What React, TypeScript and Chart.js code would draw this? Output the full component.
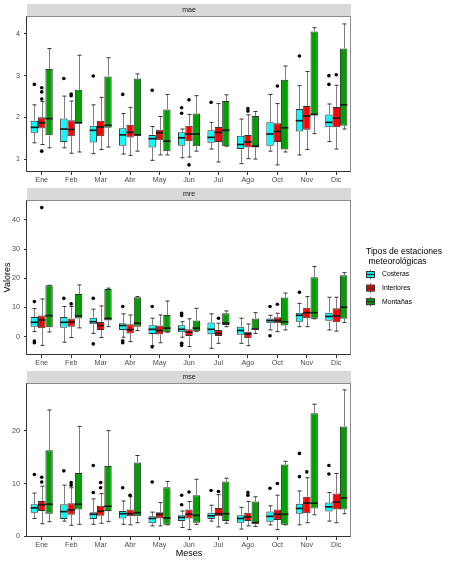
import React, { useEffect, useRef } from "react";
import { Chart, registerables } from "chart.js";

Chart.register(...registerables);

// ---------- data ----------
const months = ["Ene", "Feb", "Mar", "Abr", "May", "Jun", "Jul", "Ago", "Oct", "Nov", "Dic"];
const seriesNames = ["Costeras", "Interiores", "Montañas"];
const seriesColors = ["#00FFFF", "#FF0000", "#00A000"];
const legendTitle = ["Tipos de estaciones", " meteorológicas"];
const yAxisTitle = "Valores";
const xAxisTitle = "Meses";

// each entry: [min, q1, median, q3, max]
const maeCosteras = [
  [1.39, 1.63, 1.76, 1.92, 2.3], [1.27, 1.41, 1.72, 1.97, 2.51], [1.13, 1.4, 1.69, 1.8, 2.3],
  [1.12, 1.32, 1.58, 1.74, 2.09], [0.97, 1.28, 1.49, 1.58, 1.78], [1.03, 1.32, 1.51, 1.64, 1.72],
  [1.24, 1.39, 1.52, 1.69, 1.88], [0.89, 1.24, 1.35, 1.56, 1.96], [1.19, 1.32, 1.6, 1.88, 2.55],
  [1.1, 1.66, 1.92, 2.2, 2.76], [1.42, 1.76, 1.88, 2.07, 2.32],
];
const maeInteriores = [
  [1.35, 1.73, 1.87, 2.0, 2.38], [1.14, 1.55, 1.71, 1.93, 2.39], [1.23, 1.55, 1.77, 1.92, 2.48],
  [1.09, 1.52, 1.64, 1.82, 2.24], [1.1, 1.45, 1.63, 1.7, 2.02], [1.05, 1.43, 1.6, 1.8, 2.07],
  [0.93, 1.41, 1.64, 1.77, 2.33], [1.01, 1.28, 1.41, 1.58, 2.06], [0.86, 1.41, 1.66, 1.86, 2.33],
  [1.23, 1.7, 2.03, 2.27, 3.1], [1.24, 1.76, 1.98, 2.25, 2.77],
];
const maeMontanas = [
  [1.27, 1.57, 1.97, 3.16, 3.65], [1.17, 1.85, 1.87, 2.66, 3.49], [1.29, 1.75, 1.81, 2.98, 3.43],
  [1.19, 1.56, 1.58, 2.93, 3.04], [1.1, 1.19, 1.43, 2.19, 2.55], [1.19, 1.31, 1.6, 2.09, 2.52],
  [1.31, 1.31, 1.69, 2.39, 2.54], [1.0, 1.28, 1.31, 2.03, 2.14], [1.17, 1.23, 1.75, 2.9, 3.23],
  [1.61, 2.05, 2.07, 4.06, 4.15], [1.72, 1.8, 2.3, 3.65, 4.24],
];
const maeOutCosteras = [[2.79], [2.93], [2.99], [2.55], [2.65], [2.23, 2.1], [2.36], [], [], [3.47], [3.0, 2.79]];
const maeOutInteriores = [[2.71, 2.61, 2.44, 1.19], [2.56, 2.52], [], [], [], [2.42, 0.86], [], [2.21, 2.15], [2.75], [], [3.02]];
const maeOutMontanas = [[], [], [], [], [], [], [], [], [], [], []];

const mreCosteras = [
  [1.7, 3.4, 4.9, 6.7, 9.6], [-1.9, 3.0, 4.9, 6.7, 10.3], [1.1, 4.2, 5.1, 6.5, 9.4],
  [-0.2, 2.3, 3.8, 4.6, 7.8], [-3.2, 0.9, 2.5, 3.9, 6.3], [-0.2, 1.5, 2.5, 3.9, 5.1],
  [-4.0, 0.8, 2.5, 4.8, 7.8], [-2.3, 0.6, 2.1, 3.4, 6.3], [2.3, 4.6, 5.5, 6.2, 7.3],
  [3.4, 5.1, 7.3, 8.2, 11.4], [2.3, 5.4, 6.9, 8.2, 13.5],
];
const mreInteriores = [
  [-3.0, 2.9, 5.7, 7.2, 12.9], [-0.3, 3.4, 5.0, 6.2, 10.3], [-0.3, 2.3, 3.8, 5.0, 10.5],
  [-1.7, 1.1, 2.4, 4.2, 7.4], [-2.1, 0.7, 2.1, 3.8, 7.4], [-3.4, 0.0, 1.5, 2.5, 6.1],
  [-2.3, 0.0, 1.1, 2.3, 4.6], [-3.1, -0.6, 0.9, 1.7, 4.3], [1.7, 4.6, 5.5, 6.6, 8.0],
  [3.4, 6.3, 8.2, 9.9, 13.7], [1.9, 4.9, 7.1, 9.7, 13.5],
];
const mreMontanas = [
  [1.6, 3.2, 7.2, 17.6, 17.6], [3.0, 6.2, 7.1, 14.6, 17.7], [3.4, 5.5, 6.2, 16.3, 16.6],
  [2.1, 3.4, 4.6, 13.5, 13.7], [1.5, 1.5, 2.9, 7.4, 12.2], [1.8, 1.8, 2.9, 5.5, 9.7],
  [3.4, 4.0, 4.6, 8.0, 8.8], [1.1, 2.5, 2.6, 6.2, 8.2], [2.3, 3.8, 5.1, 13.4, 14.9],
  [6.1, 6.1, 8.2, 20.3, 24.0], [4.8, 6.1, 10.1, 21.0, 21.9],
];
const mreOutCosteras = [[12.0, -1.5, -2.1], [13.1], [13.1, -2.5], [10.3, -1.4, -2.1], [10.3, -3.5], [8.0, 7.2, -2.3, -3.0], [], [], [10.3, 0.3], [15.2], []];
const mreOutInteriores = [[44.2], [11.2], [], [], [], [], [6.3], [], [11.1], [], []];
const mreOutMontanas = [[], [], [], [], [], [], [], [], [], [], []];

const mseCosteras = [
  [3.4, 4.5, 5.4, 6.1, 8.2], [2.9, 3.3, 4.7, 6.1, 9.7], [2.3, 3.3, 4.2, 4.6, 7.1],
  [2.3, 3.4, 4.3, 4.8, 6.7], [2.0, 2.5, 3.4, 3.8, 4.6], [1.7, 2.9, 3.6, 4.0, 4.8],
  [2.9, 3.3, 3.9, 4.5, 5.9], [1.4, 2.6, 3.4, 4.0, 5.5], [2.2, 2.8, 3.8, 4.7, 5.8],
  [2.2, 4.3, 5.3, 6.2, 8.6], [2.9, 4.7, 5.6, 6.4, 8.3],
];
const mseInteriores = [
  [2.4, 4.8, 6.0, 6.7, 9.5], [2.1, 4.1, 5.0, 6.3, 9.2], [2.5, 3.9, 4.8, 5.8, 8.1],
  [2.2, 3.8, 4.3, 5.1, 7.5], [2.0, 3.4, 4.2, 4.6, 6.4], [1.3, 3.4, 4.2, 5.1, 6.6],
  [1.8, 3.8, 4.3, 5.4, 7.9], [2.0, 2.9, 3.7, 4.5, 6.6], [1.3, 3.1, 4.2, 5.1, 7.8],
  [2.6, 4.4, 6.3, 7.5, 11.1], [2.6, 5.1, 6.5, 8.1, 11.9],
];
const mseMontanas = [
  [2.8, 4.3, 6.1, 16.3, 23.9], [2.3, 5.1, 6.1, 12.0, 20.8], [2.8, 4.8, 5.7, 13.3, 20.0],
  [2.6, 3.8, 4.5, 14.0, 15.3], [2.2, 2.2, 3.5, 9.3, 10.4], [2.3, 2.6, 4.0, 7.8, 10.8],
  [2.5, 2.9, 4.3, 10.4, 11.0], [1.9, 2.4, 2.6, 6.6, 7.5], [2.2, 2.2, 4.2, 13.6, 14.2],
  [4.1, 5.3, 6.3, 23.3, 25.0], [4.3, 5.1, 7.3, 20.8, 27.7],
];
const mseOutCosteras = [[11.7], [12.4], [13.4, 8.3], [9.2], [10.3], [7.8, 6.0], [8.7], [], [9.1], [15.7, 11.3], [13.4, 11.8]];
const mseOutInteriores = [[11.2, 10.3], [10.2, 9.7], [10.2, 9.2], [7.8], [], [8.4], [8.5], [8.3, 7.8], [10.0], [12.2], []];
const mseOutMontanas = [[], [], [], [], [], [], [], [], [], [], []];

// ---------- drawing ----------
const FONT = "'Liberation Sans', Arial, Helvetica, sans-serif";

type PanelProps = {
  strip: string;
  stats: number[][][];
  outliers: number[][][];
  yMin: number;
  yMax: number;
  step: number;
  top: number;
  height: number;
  padTop: number;
  xHeight: number;
  showYTitle?: boolean;
  showXTitle?: boolean;
  showLegend?: boolean;
};

function Panel(props: PanelProps) {
  const ref = useRef<HTMLCanvasElement | null>(null);
  useEffect(() => {
    const canvas = ref.current;
    if (!canvas) return;
    const { stats, outliers, strip } = props;

    const plugin = {
      id: "boxplotParts",
      beforeDraw(chart: any) {
        const { ctx, chartArea } = chart;
        ctx.save();
        ctx.fillStyle = "#D9D9D9";
        ctx.fillRect(chartArea.left, chartArea.top - 12, chartArea.right - chartArea.left, 12);
        ctx.fillStyle = "#1A1A1A";
        ctx.font = `7px ${FONT}`;
        ctx.textAlign = "center";
        ctx.textBaseline = "middle";
        ctx.fillText(strip, (chartArea.left + chartArea.right) / 2, chartArea.top - 6);
        ctx.restore();
      },
      beforeDatasetsDraw(chart: any) {
        const { ctx } = chart;
        const y = chart.scales.y;
        ctx.save();
        chart.data.datasets.forEach((_ds: any, di: number) => {
          const meta = chart.getDatasetMeta(di);
          meta.data.forEach((el: any, i: number) => {
            const s = stats[di][i];
            const x = Math.round(el.x) + 0.5;
            const capW = el.width * 0.55;
            ctx.strokeStyle = "#7F7F7F";
            ctx.lineWidth = 1;
            ctx.beginPath();
            ctx.moveTo(x, y.getPixelForValue(s[4]));
            ctx.lineTo(x, y.getPixelForValue(s[3]));
            ctx.moveTo(x, y.getPixelForValue(s[1]));
            ctx.lineTo(x, y.getPixelForValue(s[0]));
            ctx.stroke();
            ctx.strokeStyle = "#333333";
            ctx.beginPath();
            ctx.moveTo(x - capW / 2, y.getPixelForValue(s[4]));
            ctx.lineTo(x + capW / 2, y.getPixelForValue(s[4]));
            ctx.moveTo(x - capW / 2, y.getPixelForValue(s[0]));
            ctx.lineTo(x + capW / 2, y.getPixelForValue(s[0]));
            ctx.stroke();
          });
        });
        ctx.restore();
      },
      afterDatasetsDraw(chart: any) {
        const { ctx } = chart;
        const y = chart.scales.y;
        ctx.save();
        chart.data.datasets.forEach((_ds: any, di: number) => {
          const meta = chart.getDatasetMeta(di);
          meta.data.forEach((el: any, i: number) => {
            const s = stats[di][i];
            const half = el.width / 2;
            ctx.strokeStyle = "#1A1A1A";
            ctx.lineWidth = 1.7;
            ctx.beginPath();
            const ym = y.getPixelForValue(s[2]);
            ctx.moveTo(el.x - half, ym);
            ctx.lineTo(el.x + half, ym);
            ctx.stroke();
            ctx.fillStyle = "#000000";
            outliers[di][i].forEach((v) => {
              ctx.beginPath();
              ctx.arc(el.x, y.getPixelForValue(v), 1.8, 0, Math.PI * 2);
              ctx.fill();
            });
          });
        });
        ctx.restore();
      },
      afterDraw(chart: any) {
        const { ctx, chartArea } = chart;
        const l = Math.round(chartArea.left) - 0.5;
        const r = Math.round(chartArea.right) - 0.5;
        const t = Math.round(chartArea.top) + 0.5;
        const b = Math.round(chartArea.bottom) - 0.5;
        ctx.save();
        ctx.lineWidth = 1;
        ctx.strokeStyle = "#8C8C8C";
        ctx.strokeRect(l, t, r - l, b - t);
        ctx.strokeStyle = "#333333";
        ctx.beginPath();
        ctx.moveTo(l, t);
        ctx.lineTo(l, b);
        ctx.lineTo(r, b);
        ctx.stroke();
        if (props.showLegend) {
          const lx = 365;
          ctx.fillStyle = "#000000";
          ctx.font = `8.6px ${FONT}`;
          ctx.textAlign = "left";
          ctx.textBaseline = "middle";
          legendTitle.forEach((line, k) => ctx.fillText(line, lx + 1, 68 + k * 10));
          seriesNames.forEach((name, k) => {
            const cy = 90.5 + k * 13.6;
            const cx = lx + 5.5;
            ctx.strokeStyle = "#7F7F7F";
            ctx.lineWidth = 1;
            ctx.beginPath();
            ctx.moveTo(cx, cy - 5);
            ctx.lineTo(cx, cy + 5);
            ctx.stroke();
            ctx.fillStyle = seriesColors[k];
            ctx.fillRect(lx + 1, cy - 3, 9, 6);
            ctx.strokeStyle = "#333333";
            ctx.strokeRect(lx + 1.5, cy - 3, 8, 6);
            ctx.lineWidth = 1.4;
            ctx.beginPath();
            ctx.moveTo(lx + 1.5, cy);
            ctx.lineTo(lx + 9.5, cy);
            ctx.stroke();
            ctx.fillStyle = "#000000";
            ctx.font = `6.8px ${FONT}`;
            ctx.fillText(name, lx + 17, cy);
          });
        }
        ctx.restore();
      },
    };

    const tickFont = { family: FONT, size: 7.2 };
    const chart = new Chart(canvas, {
      type: "bar",
      data: {
        labels: months,
        datasets: stats.map((arr, k) => ({
          label: seriesNames[k],
          data: arr.map((s) => [s[1], s[3]]),
          backgroundColor: seriesColors[k],
          borderColor: "#333333",
          borderWidth: 1,
          borderSkipped: false,
          categoryPercentage: 0.75,
          barPercentage: 1.0,
        })),
      },
      options: {
        animation: false,
        responsive: false,
        maintainAspectRatio: false,
        layout: { padding: { top: props.padTop, right: 99, left: 0, bottom: 0 } },
        plugins: { legend: { display: false }, tooltip: { enabled: false } },
        scales: {
          x: {
            type: "category",
            offset: true,
            grid: { drawOnChartArea: false, drawTicks: true, tickLength: 3, color: "#333333", offset: false },
            border: { display: false },
            ticks: { font: tickFont, color: "#4D4D4D", padding: 1, maxRotation: 0, autoSkip: false },
            title: {
              display: !!props.showXTitle,
              text: xAxisTitle,
              color: "#000000",
              font: { family: FONT, size: 9 },
              padding: { top: 0, bottom: 4 },
            },
            afterFit: (scale: any) => {
              scale.height = props.xHeight;
            },
          },
          y: {
            type: "linear",
            min: props.yMin,
            max: props.yMax,
            grid: { drawOnChartArea: false, drawTicks: true, tickLength: 3, color: "#333333" },
            border: { display: false },
            ticks: { font: tickFont, color: "#4D4D4D", padding: 4, stepSize: props.step, includeBounds: false },
            title: {
              display: !!props.showYTitle,
              text: yAxisTitle,
              color: "#000000",
              font: { family: FONT, size: 9 },
              padding: { top: 2, bottom: 0 },
            },
            afterFit: (scale: any) => {
              scale.width = 27;
            },
          },
        },
      } as any,
      plugins: [plugin],
    });
    return () => chart.destroy();
  }, []);
  return (
    <canvas
      ref={ref}
      width={450}
      height={props.height}
      style={{ position: "absolute", left: 0, top: props.top, width: 450, height: props.height }}
    />
  );
}

export default function App() {
  return (
    <div style={{ position: "absolute", left: 0, top: 0, width: 450, height: 563, background: "#FFFFFF", overflow: "hidden" }}>
      <Panel
        strip="mae"
        stats={[maeCosteras, maeInteriores, maeMontanas]}
        outliers={[maeOutCosteras, maeOutInteriores, maeOutMontanas]}
        yMin={0.69}
        yMax={4.43}
        step={1}
        top={0}
        height={186}
        padTop={16}
        xHeight={14}
      />
      <Panel
        strip="mre"
        stats={[mreCosteras, mreInteriores, mreMontanas]}
        outliers={[mreOutCosteras, mreOutInteriores, mreOutMontanas]}
        yMin={-6.3}
        yMax={46.8}
        step={10}
        top={184}
        height={186}
        padTop={16}
        xHeight={15}
        showYTitle
        showLegend
      />
      <Panel
        strip="mse"
        stats={[mseCosteras, mseInteriores, mseMontanas]}
        outliers={[mseOutCosteras, mseOutInteriores, mseOutMontanas]}
        yMin={-0.1}
        yMax={29.0}
        step={10}
        top={366}
        height={197}
        padTop={17}
        xHeight={26}
        showXTitle
      />
    </div>
  );
}
